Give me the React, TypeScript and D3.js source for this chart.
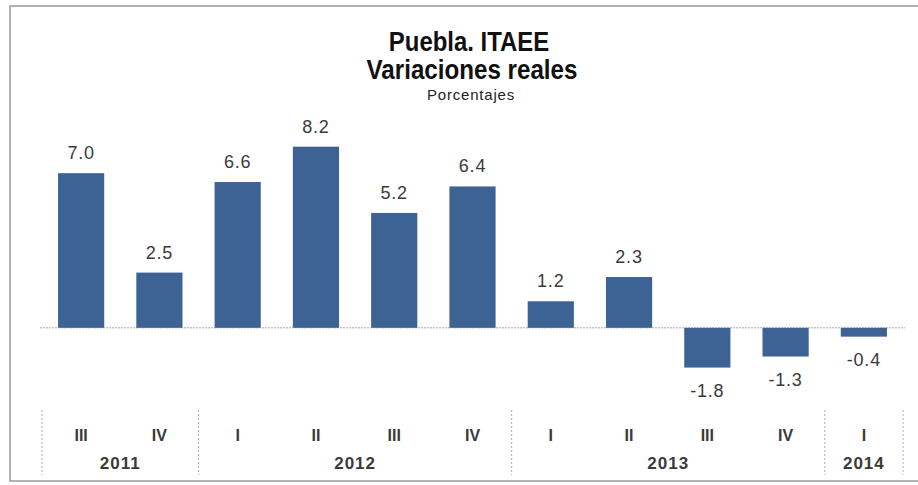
import React from "react"
import * as d3 from "d3"

const quarters = ["III", "IV", "I", "II", "III", "IV", "I", "II", "III", "IV", "I"]
const years = ["2011", "2011", "2012", "2012", "2012", "2012", "2013", "2013", "2013", "2013", "2014"]
const values = [7.0, 2.5, 6.6, 8.2, 5.2, 6.4, 1.2, 2.3, -1.8, -1.3, -0.4]

const W = 918
const H = 485
const barColor = "#3d6395"
const textColor = "#3a3a3a"
const sans = "'Liberation Sans', Arial, sans-serif"

const App = () => {
  const x = d3
    .scaleBand<number>()
    .domain(d3.range(values.length))
    .range([42, 903])
    .padding(0)

  const y = d3.scaleLinear().domain([-2, 9]).range([372, 129])

  const barW = x.bandwidth() * 0.59
  const zero = y(0)

  // year groups from the year list
  const groups = d3.groups(
    years.map((yr, i) => ({ yr, i })),
    (d) => d.yr
  )
  const bounds = groups.map(([yr, items]) => {
    const first = items[0].i
    const last = items[items.length - 1].i
    return { yr, x0: x(first)!, x1: x(last)! + x.bandwidth() }
  })
  const seps = [bounds[0].x0, ...bounds.map((b) => b.x1)]

  return (
    <svg
      width={W}
      height={H}
      style={{ position: "absolute", left: 0, top: 0, background: "#fff" }}
    >
      <rect x={10} y={6} width={W} height={475} fill="#fff" stroke="#9a9a9a" strokeWidth={1.5} />

      <g fontFamily={sans} fontWeight="bold" fill="#111" textAnchor="middle">
        <text transform="translate(469,51) scale(0.92,1.05)" fontSize={26}>
          Puebla. ITAEE
        </text>
        <text transform="translate(472,79) scale(0.93,1.05)" fontSize={26}>
          Variaciones reales
        </text>
      </g>
      <text x={471} y={100} textAnchor="middle" fontFamily={sans} fontSize={15} letterSpacing={0.8} fill="#222">
        Porcentajes
      </text>

      <line x1={40} x2={905} y1={zero} y2={zero} stroke="#aaa" strokeWidth={1} strokeDasharray="2,1" />

      {values.map((v, i) => {
        const cx = x(i)! + x.bandwidth() / 2
        const top = Math.min(y(v), zero)
        const h = Math.abs(y(v) - zero)
        return (
          <g key={i}>
            <rect x={cx - barW / 2} y={top} width={barW} height={h} fill={barColor} />
            <text
              x={cx}
              y={v >= 0 ? y(v) - 14 : y(v) + 29}
              textAnchor="middle"
              fontFamily={sans}
              fontSize={18}
              letterSpacing={0.8}
              fill={textColor}
            >
              {v.toFixed(1)}
            </text>
            <text
              x={cx}
              y={441}
              textAnchor="middle"
              fontFamily={sans}
              fontWeight="bold"
              fontSize={16}
              fill={textColor}
            >
              {quarters[i]}
            </text>
          </g>
        )
      })}

      {seps.map((sx, i) => (
        <line key={i} x1={sx} x2={sx} y1={410} y2={475} stroke="#b0b0b0" strokeWidth={1} strokeDasharray="2,2" />
      ))}

      {bounds.map((b) => (
        <text
          key={b.yr}
          x={(b.x0 + b.x1) / 2}
          y={469}
          textAnchor="middle"
          fontFamily={sans}
          fontWeight="bold"
          fontSize={17}
          letterSpacing={1}
          fill={textColor}
        >
          {b.yr}
        </text>
      ))}
    </svg>
  )
}

export default App
